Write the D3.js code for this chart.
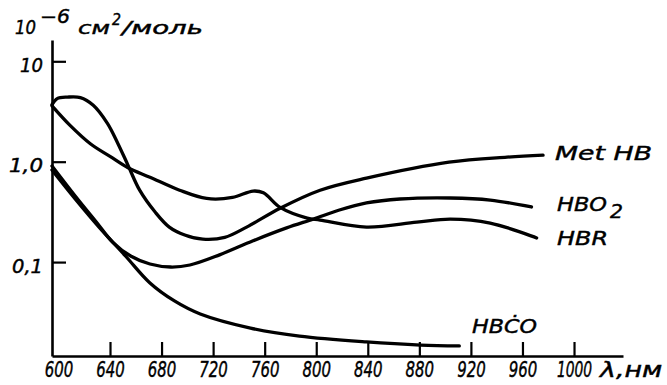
<!DOCTYPE html>
<html>
<head>
<meta charset="utf-8">
<title>Absorption spectra</title>
<script src="https://cdn.jsdelivr.net/npm/d3@7/dist/d3.min.js"></script>
<style>
    body { margin: 0; background: #fff; }
    svg text { font-family: "DejaVu Sans", sans-serif; font-style: italic; fill: #000; stroke: #000; stroke-width: 0.45; }
</style>
</head>
<body>
<svg id="mainsvg" width="667" height="385"></svg>
<script>
    // wavelength ticks, nm
    const xTicks = [600, 640, 680, 720, 760, 800, 840, 880, 920, 960, 1000];
    // extinction ticks and their labels
    const yTicks = [0.1, 1, 10];
    const yTickLabels = ['0,1', '1,0', '10'];

    // curves: wavelength (nm) and value (10^-6 cm2/mol)
    const metHbNm = [595, 599, 607, 617, 627, 638, 646, 654, 663, 675, 686, 698, 712, 729, 746, 772, 803, 839, 903, 948, 976];
    const metHbVal = [3.7, 4.25, 4.4, 4.35, 3.65, 2.41, 1.53, 0.92, 0.52, 0.315, 0.223, 0.186, 0.169, 0.176, 0.223, 0.344, 0.52, 0.686, 0.99, 1.11, 1.16];

    const hbrNm = [595, 609, 625, 640, 654, 671, 694, 715, 735, 751, 759, 772, 793, 803, 839, 878, 904, 935, 971];
    const hbrVal = [3.6, 2.3, 1.5, 1.13, 0.87, 0.70, 0.52, 0.43, 0.44, 0.51, 0.49, 0.35, 0.274, 0.262, 0.223, 0.25, 0.268, 0.245, 0.174];

    const hbo2Nm = [595, 613, 630, 642, 656, 671, 687, 702, 725, 751, 777, 798, 818, 839, 865, 904, 935, 967];
    const hbo2Val = [0.906, 0.455, 0.245, 0.158, 0.115, 0.0957, 0.0893, 0.0935, 0.118, 0.163, 0.219, 0.269, 0.330, 0.388, 0.425, 0.435, 0.415, 0.354];

    const hbcoNm = [595, 613, 632, 652, 671, 690, 710, 749, 787, 839, 881, 911];
    const hbcoVal = [0.826, 0.425, 0.219, 0.115, 0.0619, 0.041, 0.0304, 0.022, 0.0183, 0.016, 0.0149, 0.0146];

    const svg = d3.select('#mainsvg');

    const xScale = d3.scaleLinear().domain([595, 1038]).range([52, 623]);
    const yScale = d3.scaleLog().domain([0.0116, 16.3]).range([356, 40]);

    const line = d3.line()
        .x(d => xScale(d[0]))
        .y(d => yScale(d[1]))
        .curve(d3.curveCatmullRom.alpha(0.5));

    const series = [
        { nm: metHbNm, val: metHbVal },
        { nm: hbrNm, val: hbrVal },
        { nm: hbo2Nm, val: hbo2Val },
        { nm: hbcoNm, val: hbcoVal }
    ];

    svg.selectAll('.curve').data(series).join('path')
        .attr('class', 'curve')
        .attr('d', s => line(s.nm.map((n, i) => [n, s.val[i]])))
        .attr('fill', 'none')
        .attr('stroke', '#000')
        .attr('stroke-width', 3.3)
        .attr('stroke-linecap', 'round')
        .attr('stroke-linejoin', 'round');

    // axes
    const xAxis = d3.axisBottom(xScale).tickValues(xTicks)
        .tickSizeInner(-14).tickSizeOuter(0).tickFormat(d3.format('d'));
    const gx = svg.append('g').attr('transform', `translate(0, ${yScale.range()[0]})`).call(xAxis);
    gx.select('.domain').attr('stroke-width', 2.6);
    gx.selectAll('.tick line').attr('stroke-width', 2.2)
        .filter(d => d === 600).remove();
    // narrow drafting digits: squeeze horizontally
    gx.selectAll('.tick text')
        .attr('y', 21).attr('dy', 0)
        .attr('font-size', 22)
        .attr('transform', d => d >= 1000 ? 'scale(0.63, 1)' : 'scale(0.68, 1)');

    svg.append('text')
        .attr('transform', 'translate(600, 377) scale(1.28, 1)')
        .attr('font-size', 21)
        .text('λ,нм');

    const yAxis = d3.axisLeft(yScale).tickValues(yTicks)
        .tickSizeInner(-14).tickSizeOuter(0).tickPadding(9)
        .tickFormat((d, i) => yTickLabels[i]);
    const gy = svg.append('g').attr('transform', `translate(${xScale.range()[0]}, 0)`).call(yAxis);
    gy.select('.domain').attr('stroke-width', 2.6);
    gy.selectAll('.tick line').attr('stroke-width', 2.2);
    gy.selectAll('.tick text')
        .attr('font-size', 20).attr('dy', 10)
        .attr('textLength', d => d === 10 ? 23 : (d === 1 ? 34 : 31))
        .attr('lengthAdjust', 'spacingAndGlyphs');

    // unit title
    const titleParts = [
        { t: '10', x: 15, y: 34, size: 19, w: 21 },
        { t: '−6', x: 40, y: 23, size: 19, w: 30 },
        { t: 'см', x: 78, y: 34, size: 18, w: 32 },
        { t: '2', x: 112, y: 25, size: 16, w: 9 },
        { t: '/моль', x: 122, y: 34, size: 18, w: 81 }
    ];
    svg.selectAll('.title').data(titleParts).join('text')
        .attr('class', 'title')
        .attr('x', d => d.x).attr('y', d => d.y)
        .attr('font-size', d => d.size)
        .attr('textLength', d => d.w).attr('lengthAdjust', 'spacingAndGlyphs')
        .text(d => d.t);

    // curve labels
    const labels = [
        { t: 'Met HB', x: 555, y: 160, w: 97 },
        { t: 'HBO', x: 557, y: 211, w: 50 },
        { t: '2', x: 610, y: 218, w: 13 },
        { t: 'HBR', x: 557, y: 245, w: 51 },
        { t: 'HBĊO', x: 472, y: 333, w: 65 }
    ];
    svg.selectAll('.lbl').data(labels).join('text')
        .attr('class', 'lbl')
        .attr('x', d => d.x).attr('y', d => d.y)
        .attr('font-size', 20)
        .attr('textLength', d => d.w).attr('lengthAdjust', 'spacingAndGlyphs')
        .text(d => d.t);
</script>
</body>
</html>
